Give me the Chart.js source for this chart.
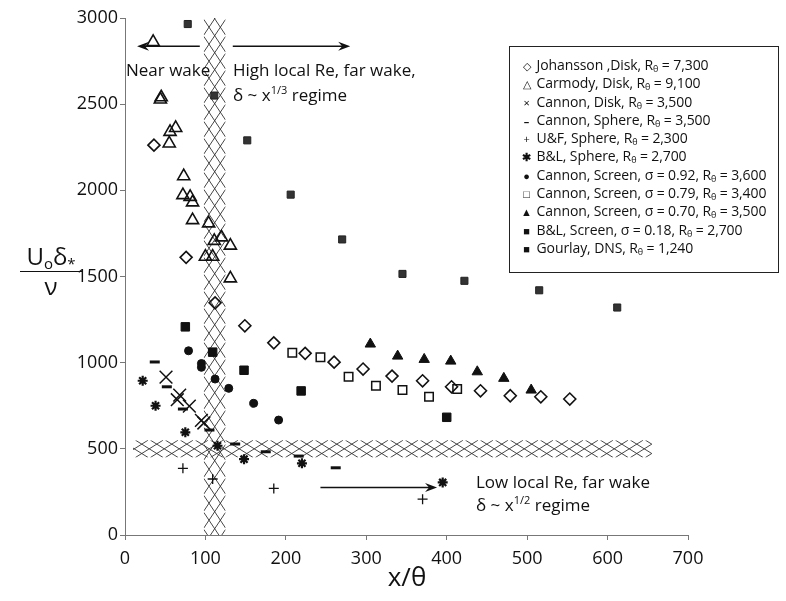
<!DOCTYPE html>
<html>
<head>
<meta charset="utf-8">
<script src="https://cdn.jsdelivr.net/npm/chart.js@4"></script>
<style>
  body { margin: 0; background: #fff; font-family: "Open Sans", sans-serif; color: #111; }
  #wrap { position: relative; width: 786px; height: 601px; }
  .note { position: absolute; font-size: 17px; line-height: 1; white-space: nowrap; }
  .note sup { font-size: 11px; vertical-align: 7px; line-height: 0; }
  #legend { position: absolute; left: 509px; top: 46px; width: 270px; height: 227px;
            border: 1.3px solid #222; box-sizing: border-box; padding: 9px 0 0 10px; }
  #legend div { font-size: 14px; height: 18.3px; line-height: 18.3px; white-space: nowrap; letter-spacing: -0.1px; }
  #legend sub { font-size: 9px; vertical-align: -2px; line-height: 0; }
  #legend span.sym { display: inline-block; width: 13px; text-align: center; font-size: 11px; }
  #ytitle { position: absolute; left: 20px; top: 244px; width: 62px; text-align: center; font-size: 24px; line-height: 1; }
  #ytitle .num { border-bottom: 1.5px solid #111; padding-bottom: 3px; }
  #ytitle sub { font-size: 15px; vertical-align: -4px; line-height: 0; }
  #xtitle { position: absolute; left: 357px; width: 100px; top: 563px; text-align: center; font-size: 26px; line-height: 1; }
</style>
</head>
<body>
<div id="wrap">
  <canvas id="c" width="786" height="601"></canvas>
  <div class="note" style="left:126px; top:61px;">Near wake</div>
  <div class="note" style="left:233px; top:61px;">High local Re, far wake,</div>
  <div class="note" style="left:233px; top:86px;">δ ~ x<sup>1/3</sup> regime</div>
  <div class="note" style="left:476px; top:473px;">Low local Re, far wake</div>
  <div class="note" style="left:476px; top:496px;">δ ~ x<sup>1/2</sup> regime</div>
  <div id="ytitle"><div class="num">U<sub>o</sub>δ<sub>*</sub></div><div style="margin-top:2px">ν</div></div>
  <div id="xtitle">x/θ</div>
  <div id="legend"></div>
</div>
<script>
// series, [x/theta, U0 delta* / nu]
const johansson = [[36,2262],[76,1611],[112,1347],[149,1214],[185,1115],[224,1054],[260,1003],[296,963],
                   [332,922],[370,895],[406,860],[442,837],[479,808],[517,802],[553,789]];
const carmody = [[35,2861],[44,2527],[45,2540],[63,2362],[56,2339],[55,2272],[73,2082],[72,1972],[81,1962],
                 [84,1930],[84,1827],[104,1808],[111,1707],[120,1727],[131,1679],[100,1615],[109,1615],[131,1489]];
const cannonDisk = [[51,916],[65,785],[68,812],[80,748],[95,665],[98,650]];
const cannonSphere = [[37,1004],[52,860],[72,731],[105,609],[137,528],[175,483],[216,458],[262,390]];
const ufSphere = [[72,387],[109,325],[185,270],[370,208]];
const blSphere = [[22,895],[38,750],[75,596],[115,518],[148,440],[220,416],[395,305]];
const screen092 = [[79,1069],[95,995],[95,973],[112,905],[129,851],[160,764],[191,667]];
const screen079 = [[208,1057],[243,1031],[278,918],[312,866],[345,841],[378,802],[413,847]];
const screen070 = [[305,1108],[339,1038],[372,1019],[405,1009],[438,947],[471,909],[505,841]];
const blScreen = [[75,1208],[109,1061],[148,956],[219,836],[400,683]];
const gourlay = [[78,2965],[111,2550],[152,2290],[206,1975],[270,1715],[345,1515],[422,1475],[515,1420],[612,1320]];

const seriesNames = [
  'Johansson ,Disk, Rθ = 7,300', 'Carmody, Disk,  Rθ = 9,100', 'Cannon, Disk, Rθ = 3,500',
  'Cannon, Sphere, Rθ = 3,500', 'U&F, Sphere, Rθ = 2,300', 'B&L, Sphere, Rθ = 2,700',
  'Cannon, Screen, σ = 0.92, Rθ = 3,600', 'Cannon, Screen, σ = 0.79, Rθ = 3,400',
  'Cannon, Screen, σ = 0.70, Rθ = 3,500', 'B&L, Screen, σ = 0.18, Rθ = 2,700', 'Gourlay, DNS, Rθ = 1,240'
];
const legendSymbols = ['◇', '△', '×', '<b>–</b>', '+', '<b>✱</b>', '●', '□', '▲', '■', '■'];

// hatched regime bands and arrows, in data units
const vBandX = [98, 125];      // x range, spans y 0..3000
const hBandY = [450, 550];     // y range
const hBandX = [10, 655];
const arrows = [ // [x from, x to, y]
  [93, 15, 2836],
  [134, 280, 2836],
  [243, 388, 275]
];

const black = '#111';
function ds(label, data, style, r, fill, bw) {
  return {
    label: label,
    data: data.map(p => ({ x: p[0], y: p[1] })),
    showLine: false,
    pointStyle: style,
    pointRadius: r,
    pointHoverRadius: r,
    borderColor: black,
    backgroundColor: fill ? black : 'rgba(0,0,0,0)',
    borderWidth: bw
  };
}

const datasets = [
  ds(seriesNames[0], johansson, 'rectRot', 6, false, 1.6),
  ds(seriesNames[1], carmody, 'triangle', 7, false, 1.6),
  ds(seriesNames[2], cannonDisk, 'crossRot', 9, false, 1.5),
  ds(seriesNames[3], cannonSphere, 'line', 5, false, 3),
  ds(seriesNames[4], ufSphere, 'cross', 5, false, 1.3),
  ds(seriesNames[5], blSphere, 'star', 5, false, 2.2),
  ds(seriesNames[6], screen092, 'circle', 4, true, 1),
  ds(seriesNames[7], screen079, 'rect', 6, false, 1.5),
  ds(seriesNames[8], screen070, 'triangle', 6, true, 1),
  ds(seriesNames[9], blScreen, 'rect', 6, true, 1),
  ds(seriesNames[10], gourlay, 'rect', 5, true, 1)
];
datasets[10].backgroundColor = '#333';
datasets[10].borderColor = '#222';

function hatchV(ctx, x0, x1, y0, y1) {
  ctx.save();
  ctx.beginPath(); ctx.rect(x0, y0, x1 - x0, y1 - y0); ctx.clip();
  const h = (x1 - x0) * 1.5, d = 17;
  ctx.beginPath();
  for (let y = y0 - h; y < y1 + h; y += d) {
    ctx.moveTo(x0, y); ctx.lineTo(x1, y + h);
    ctx.moveTo(x1, y); ctx.lineTo(x0, y + h);
  }
  ctx.stroke();
  ctx.restore();
}
function hatchH(ctx, x0, x1, y0, y1) {
  ctx.save();
  ctx.beginPath(); ctx.rect(x0, y0, x1 - x0, y1 - y0); ctx.clip();
  const w = (y1 - y0) * 1.6, d = 15;
  ctx.beginPath();
  for (let x = x0 - w; x < x1 + w; x += d) {
    ctx.moveTo(x, y0); ctx.lineTo(x + w, y1);
    ctx.moveTo(x, y1); ctx.lineTo(x + w, y0);
  }
  ctx.stroke();
  ctx.restore();
}

const decor = {
  id: 'decor',
  beforeDatasetsDraw(chart) {
    const ctx = chart.ctx, xs = chart.scales.x, ys = chart.scales.y;
    ctx.save();
    ctx.strokeStyle = '#333';
    ctx.lineWidth = 0.9;
    hatchV(ctx, xs.getPixelForValue(vBandX[0]), xs.getPixelForValue(vBandX[1]),
           ys.getPixelForValue(3000), ys.getPixelForValue(0));
    hatchH(ctx, xs.getPixelForValue(hBandX[0]), xs.getPixelForValue(hBandX[1]),
           ys.getPixelForValue(hBandY[1]), ys.getPixelForValue(hBandY[0]));
    ctx.strokeStyle = black;
    ctx.fillStyle = black;
    ctx.lineWidth = 1.5;
    arrows.forEach(a => {
      const x0 = xs.getPixelForValue(a[0]), x1 = xs.getPixelForValue(a[1]), y = ys.getPixelForValue(a[2]);
      const dir = Math.sign(x1 - x0);
      ctx.beginPath(); ctx.moveTo(x0, y); ctx.lineTo(x1 - dir * 6, y); ctx.stroke();
      ctx.beginPath();
      ctx.moveTo(x1, y); ctx.lineTo(x1 - dir * 12, y - 4.5); ctx.lineTo(x1 - dir * 8, y);
      ctx.lineTo(x1 - dir * 12, y + 4.5); ctx.closePath(); ctx.fill();
    });
    ctx.restore();
  }
};

const tickFont = { family: '"Open Sans", sans-serif', size: 18 };
new Chart(document.getElementById('c'), {
  type: 'scatter',
  data: { datasets: datasets },
  options: {
    responsive: false,
    animation: false,
    layout: { padding: { top: 18, right: 98, left: 0, bottom: 0 } },
    plugins: { legend: { display: false }, tooltip: { enabled: false } },
    scales: {
      x: {
        type: 'linear', min: 0, max: 700,
        ticks: { stepSize: 100, color: black, font: tickFont, padding: 8, callback: v => String(v) },
        grid: { drawOnChartArea: false, tickLength: 5, color: '#777' },
        border: { color: '#777' },
        afterFit: s => { s.height = 66; }
      },
      y: {
        min: 0, max: 3000,
        ticks: { stepSize: 500, color: black, font: tickFont, padding: 2, callback: v => String(v) },
        grid: { drawOnChartArea: false, tickLength: 5, color: '#777' },
        border: { color: '#777' },
        afterFit: s => { s.width = 125; }
      }
    }
  },
  plugins: [decor]
});

// legend box
document.getElementById('legend').innerHTML = seriesNames.map((n, i) =>
  '<div><span class="sym">' + legendSymbols[i] + '</span> ' +
  n.replace(/&/g, '&amp;').replace('Rθ', 'R<sub>θ</sub>') + '</div>').join('');
</script>
</body>
</html>
